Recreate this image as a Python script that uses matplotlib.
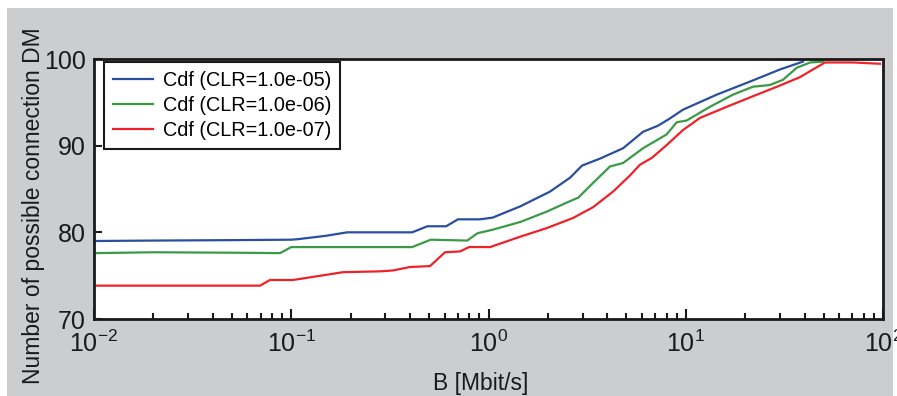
import numpy as np
import matplotlib
matplotlib.use("Agg")
import matplotlib.pyplot as plt
from matplotlib.patches import Rectangle
from matplotlib.ticker import LogLocator, NullFormatter

plt.rcParams['font.family'] = ['Liberation Sans', 'DejaVu Sans']
plt.rcParams['mathtext.fontset'] = 'custom'
plt.rcParams['mathtext.rm'] = 'Liberation Sans'
plt.rcParams['mathtext.it'] = 'Liberation Sans:italic'
plt.rcParams['mathtext.bf'] = 'Liberation Sans:bold'

# data (B in Mbit/s, percent of possible connections)
b_clr5 = [0.01, 0.02, 0.05, 0.1, 0.107, 0.15, 0.192, 0.41, 0.49, 0.61, 0.70,
          0.905, 1.05, 1.45, 2.05, 2.59, 2.98, 3.67, 4.81, 6.07, 7.23, 8.13,
          9.68, 14.4, 21.2, 30.1, 39.3]
cdf_clr5 = [79.0, 79.05, 79.1, 79.15, 79.2, 79.6, 80.0, 80.0, 80.7, 80.7, 81.5,
            81.5, 81.7, 83.0, 84.7, 86.3, 87.7, 88.5, 89.7, 91.6, 92.3, 93.0,
            94.15, 95.9, 97.4, 98.8, 99.7]

b_clr6 = [0.01, 0.02, 0.05, 0.0877, 0.1, 0.2, 0.41, 0.51, 0.78, 0.88, 1.05,
          1.45, 1.98, 2.59, 2.85, 3.39, 4.13, 4.81, 6.07, 8.0, 9.0, 10.1, 13.3,
          17.4, 21.9, 26.7, 31.1, 36.6, 42.7, 49.7]
cdf_clr6 = [77.6, 77.7, 77.65, 77.6, 78.3, 78.3, 78.3, 79.15, 79.05, 79.9, 80.3,
            81.2, 82.4, 83.6, 84.0, 85.7, 87.6, 88.0, 89.7, 91.3, 92.7, 92.9, 94.5,
            95.9, 96.8, 97.0, 97.6, 99.0, 99.6, 99.7]

b_clr7 = [0.01, 0.0695, 0.078, 0.102, 0.183, 0.282, 0.328, 0.40, 0.505, 0.602,
          0.718, 0.797, 1.02, 1.45, 1.98, 2.68, 3.39, 4.28, 5.21, 5.86, 6.74,
          8.03, 9.68, 11.8, 16.2, 21.9, 29.0, 37.9, 44.2, 50.8, 70.5, 96.6]
cdf_clr7 = [73.85, 73.85, 74.5, 74.5, 75.4, 75.5, 75.6, 76.0, 76.1, 77.7,
            77.8, 78.3, 78.3, 79.5, 80.5, 81.65, 82.9, 84.7, 86.55, 87.8, 88.6,
            90.1, 91.8, 93.2, 94.5, 95.7, 96.8, 97.9, 98.8, 99.6, 99.6, 99.45]

labels = ['Cdf (CLR=1.0e-05)', 'Cdf (CLR=1.0e-06)', 'Cdf (CLR=1.0e-07)']
colors = ['#2a4ea0', '#3a9a48', '#ee2229']


def main():
    fig = plt.figure(figsize=(8.97, 3.96), dpi=100)
    fig.patch.set_facecolor('white')
    fig.patches.append(Rectangle((7 / 897, 0), 886 / 897, 388 / 396,
                                 transform=fig.transFigure, facecolor='#cccdcf',
                                 edgecolor='none', zorder=-10))

    ax = fig.add_axes([94 / 897, 77 / 396, 789 / 897, 260 / 396])
    ax.set_facecolor('white')

    ax.plot(b_clr5, cdf_clr5, color=colors[0], lw=1.6, label=labels[0])
    ax.plot(b_clr6, cdf_clr6, color=colors[1], lw=1.6, label=labels[1])
    ax.plot(b_clr7, cdf_clr7, color=colors[2], lw=1.6, label=labels[2])

    ax.set_xscale('log')
    ax.set_xlim(0.01, 100)
    ax.set_ylim(70, 100)
    ax.set_yticks([70, 80, 90, 100])
    ax.xaxis.set_minor_locator(LogLocator(base=10, subs=np.arange(2, 10), numticks=20))
    ax.xaxis.set_minor_formatter(NullFormatter())

    for s in ax.spines.values():
        s.set_linewidth(2.0)
        s.set_color('#1a1a1a')

    ax.tick_params(axis='both', which='both', direction='in', top=False, right=False,
                   colors='#1a1a1a', width=1.5)
    ax.tick_params(axis='y', which='major', length=6, pad=6, labelsize=18)
    ax.tick_params(axis='x', which='major', length=7, pad=8, labelsize=18)
    ax.tick_params(axis='x', which='minor', length=4)

    ax.set_xlabel('B [Mbit/s]', fontsize=16.5, color='#1a1a1a')
    ax.xaxis.set_label_coords(0.49, -0.205)
    ax.set_ylabel('Number of possible connection DM', fontsize=16.5, color='#1a1a1a')
    ax.yaxis.set_label_coords(-0.062, 0.435)

    leg = ax.legend(loc='upper left', bbox_to_anchor=(10 / 789, 1 - 3 / 260),
                    borderaxespad=0, fontsize=14.3, frameon=True, fancybox=False,
                    handlelength=2.0, handletextpad=0.5, borderpad=0.45,
                    labelspacing=0.3)
    leg.get_frame().set_edgecolor('#1a1a1a')
    leg.get_frame().set_linewidth(1.5)
    leg.get_frame().set_alpha(1)

    fig.savefig('out.png', dpi=100)


if __name__ == "__main__":
    main()
